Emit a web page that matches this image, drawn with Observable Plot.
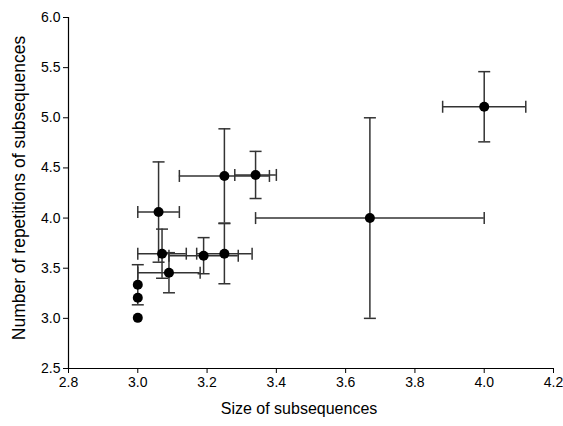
<!DOCTYPE html>
<html>
<head>
<meta charset="utf-8">
<script src="https://cdn.jsdelivr.net/npm/d3@7"></script>
<script src="https://cdn.jsdelivr.net/npm/@observablehq/plot@0.6"></script>
<style>
  html, body { margin: 0; padding: 0; background: #fff; }
  #chart { width: 563px; height: 426px; }
</style>
</head>
<body>
<div id="chart"></div>
<script>
// Data
const sizes       = [3.06, 3.07, 3.19, 3.09, 3.25, 3.34, 3.25, 3.00, 3.00, 3.00, 3.67, 4.00];
const repetitions = [4.06, 3.645, 3.625, 3.455, 4.42, 4.43, 3.645, 3.335, 3.205, 3.005, 4.00, 5.11];
const sizeErr     = [0.06, 0.07, 0.10, 0.09, 0.13, 0.06, 0.08, 0, 0, 0, 0.33, 0.12];
const repErr      = [0.50, 0.245, 0.18, 0.20, 0.47, 0.235, 0.30, 0.20, 0, 0, 1.00, 0.35];
const xTicks = [2.8, 3.0, 3.2, 3.4, 3.6, 3.8, 4.0, 4.2];
const yTicks = [2.5, 3.0, 3.5, 4.0, 4.5, 5.0, 5.5, 6.0];
const xTitle = "Size of subsequences";
const yTitle = "Number of repetitions of subsequences";

const data = sizes.map((x, i) => ({x, y: repetitions[i], ex: sizeErr[i], ey: repErr[i]}));
const xBars = data.filter(d => d.ex > 0);
const yBars = data.filter(d => d.ey > 0);

// cap symbols (half-length = r)
const capH = {draw(ctx, size) { const r = Math.sqrt(size / Math.PI); ctx.moveTo(-r, 0); ctx.lineTo(r, 0); }};
const capV = {draw(ctx, size) { const r = Math.sqrt(size / Math.PI); ctx.moveTo(0, -r); ctx.lineTo(0, r); }};

const barColor = "#333";
const sw = 1.5;

const chart = Plot.plot({
  width: 563,
  height: 426,
  marginLeft: 68,
  marginRight: 10,
  marginTop: 17,
  marginBottom: 58,
  style: {fontFamily: "'Liberation Sans', Arial, sans-serif", fontSize: "14px", color: "#000", background: "#fff"},
  x: {domain: [2.8, 4.2], ticks: xTicks, tickFormat: d3.format(".1f"), tickSize: 5, tickPadding: 4, label: null},
  y: {domain: [2.5, 6.0], ticks: yTicks, tickFormat: d3.format(".1f"), tickSize: 5, tickPadding: 3, label: null},
  marks: [
    Plot.ruleX([2.8], {stroke: "#000", strokeWidth: 1.2}),
    Plot.ruleY([2.5], {stroke: "#000", strokeWidth: 1.2}),
    // vertical error bars
    Plot.ruleX(yBars, {x: "x", y1: d => d.y - d.ey, y2: d => d.y + d.ey, stroke: barColor, strokeWidth: sw}),
    Plot.dot(yBars, {x: "x", y: d => d.y - d.ey, symbol: capH, r: 6, stroke: barColor, strokeWidth: sw, fill: "none"}),
    Plot.dot(yBars, {x: "x", y: d => d.y + d.ey, symbol: capH, r: 6, stroke: barColor, strokeWidth: sw, fill: "none"}),
    // horizontal error bars
    Plot.ruleY(xBars, {y: "y", x1: d => d.x - d.ex, x2: d => d.x + d.ex, stroke: barColor, strokeWidth: sw}),
    Plot.dot(xBars, {x: d => d.x - d.ex, y: "y", symbol: capV, r: 6, stroke: barColor, strokeWidth: sw, fill: "none"}),
    Plot.dot(xBars, {x: d => d.x + d.ex, y: "y", symbol: capV, r: 6, stroke: barColor, strokeWidth: sw, fill: "none"}),
    // points
    Plot.dot(data, {x: "x", y: "y", r: 5, fill: "#000", stroke: "none"}),
    // titles
    Plot.text([xTitle], {frameAnchor: "bottom", textAnchor: "middle", dx: -12, dy: 45, fontSize: 16, fill: "#000"}),
    Plot.text([yTitle], {frameAnchor: "left", textAnchor: "middle", rotate: -90, dx: -49, dy: -5, fontSize: 17.5, fill: "#000"})
  ]
});
document.getElementById("chart").appendChild(chart);
</script>
</body>
</html>
